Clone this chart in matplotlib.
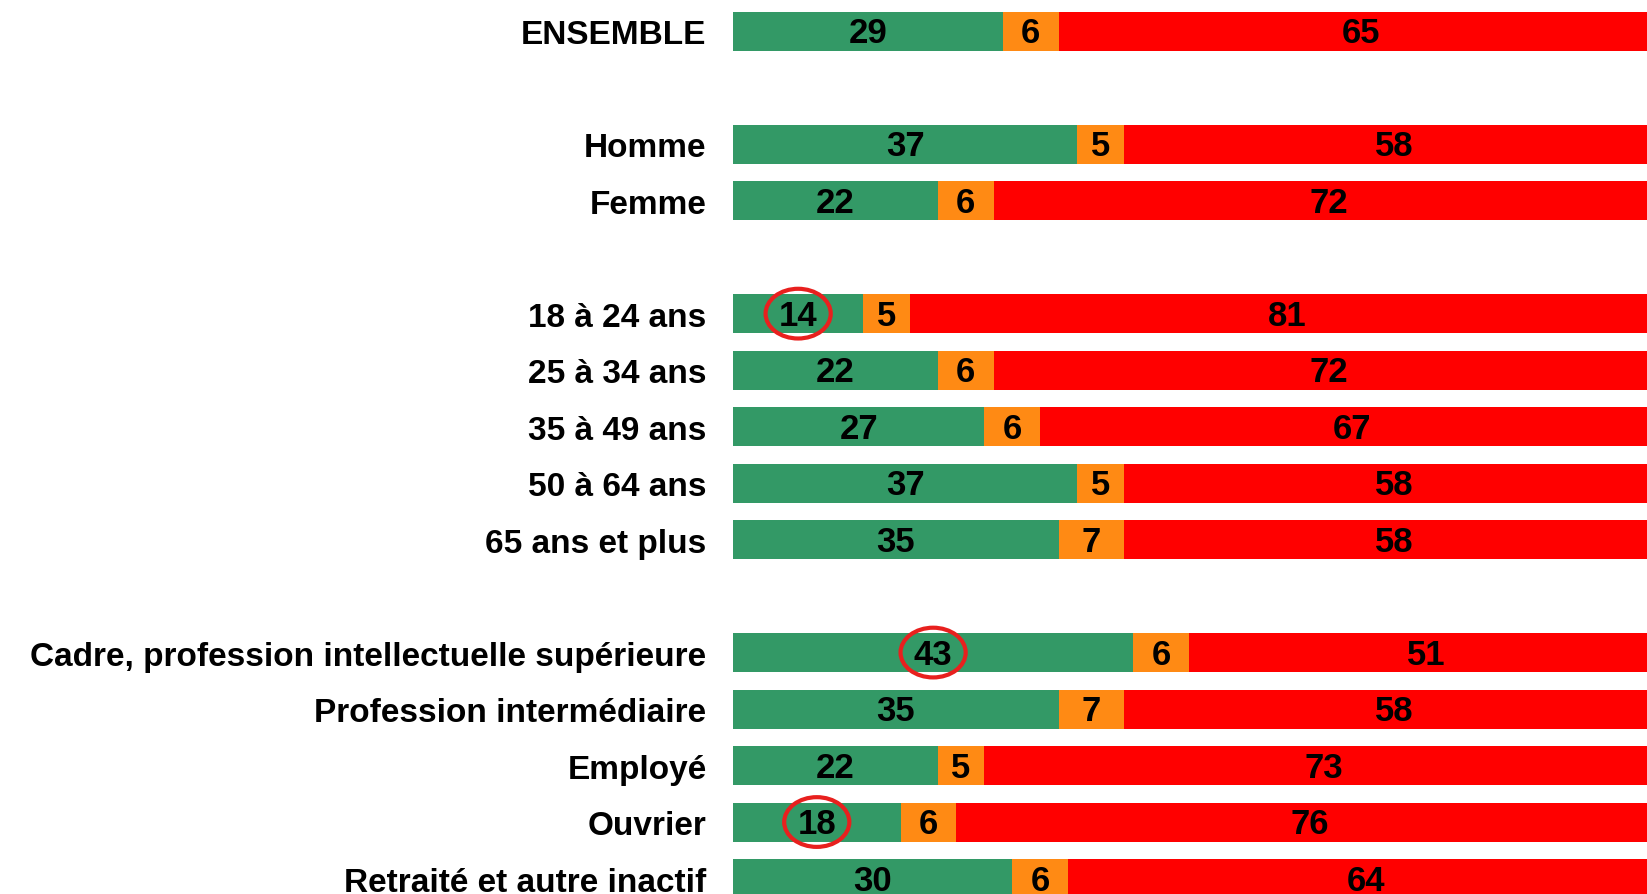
import numpy as np
import matplotlib.pyplot as plt
from matplotlib.patches import Ellipse

categories = ["ENSEMBLE", "Homme", "Femme",
              "18 à 24 ans", "25 à 34 ans", "35 à 49 ans", "50 à 64 ans", "65 ans et plus",
              "Cadre, profession intellectuelle supérieure", "Profession intermédiaire",
              "Employé", "Ouvrier", "Retraité et autre inactif"]
rows = [0, 2, 3, 5, 6, 7, 8, 9, 11, 12, 13, 14, 15]
vert = [29, 37, 22, 14, 22, 27, 37, 35, 43, 35, 22, 18, 30]
orange = [6, 5, 6, 5, 6, 6, 5, 7, 6, 7, 5, 6, 6]
rouge = [65, 58, 72, 81, 72, 67, 58, 58, 51, 58, 73, 76, 64]
entoures = ["18 à 24 ans", "Cadre, profession intellectuelle supérieure", "Ouvrier"]

couleurs = ["#339966", "#ff8a14", "#ff0000"]

plt.rcParams['font.family'] = ['Liberation Sans', 'DejaVu Sans']

fig = plt.figure(figsize=(16.47, 8.95), dpi=100)
ax = fig.add_axes([733 / 1647, 0, 1 - 733 / 1647, 1])

gauche = np.zeros(len(rows))
for serie, coul in zip([vert, orange, rouge], couleurs):
    vals = np.array(serie, dtype=float)
    ax.barh(rows, vals, left=gauche, height=0.69, color=coul, edgecolor='none')
    for y, g, v in zip(rows, gauche, vals):
        ax.text(g + v / 2, y + 0.03, f"{int(v)}", ha='center', va='center',
                fontsize=25, fontweight='bold', color='black')
    gauche += vals

# cercles rouges autour de certaines valeurs
for nom, y, v in zip(categories, rows, vert):
    if nom in entoures:
        ax.add_patch(Ellipse((v / 2, y), width=7.0, height=0.88, fill=False,
                             edgecolor='#e8201e', linewidth=3))

ax.set_xlim(0, 98.2)
ax.set_ylim(15.274, -0.57)
ax.set_yticks(rows, categories)
ax.tick_params(axis='y', length=0, pad=19, labelsize=24)
for lab in ax.get_yticklabels():
    lab.set_fontweight('bold')
ax.set_xticks([])
for s in ax.spines.values():
    s.set_visible(False)

fig.savefig("out.png", dpi=100)
